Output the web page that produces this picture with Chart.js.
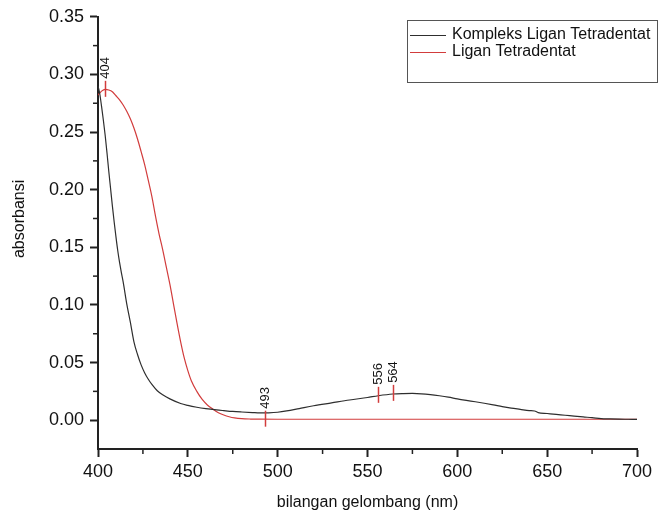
<!DOCTYPE html>
<html>
<head>
<meta charset="utf-8">
<script src="https://cdn.jsdelivr.net/npm/chart.js@4.4.1/dist/chart.umd.min.js"></script>
<style>
  html, body { margin: 0; padding: 0; background: #fff; }
</style>
</head>
<body>
<canvas id="uvChart" width="659" height="515"></canvas>
<script>
// series names
const seriesNames = ['Kompleks Ligan Tetradentat', 'Ligan Tetradentat'];

// Kompleks Ligan Tetradentat (black)
const wlKompleks = [400, 401, 402, 403, 404, 405, 406, 407, 408, 409, 410, 411, 412, 413, 414,
    416, 418, 420, 422, 424, 426, 428, 430,
    433, 436, 440, 446, 450, 455, 460, 466, 470, 475, 480, 486, 490, 495, 500, 505, 512, 520, 530, 540,
    550, 556, 564, 570, 575, 580, 585, 590, 595, 600,
    605, 610, 615, 620, 625, 630, 635, 640, 643, 645, 650, 655, 660, 665, 670, 675, 680, 685, 690, 695, 700];
const absKompleks = [0.290, 0.283, 0.272, 0.260, 0.247, 0.232, 0.216, 0.201, 0.186, 0.172, 0.159, 0.147, 0.137, 0.128, 0.120,
    0.101, 0.085, 0.068, 0.057, 0.048, 0.041, 0.0355, 0.031,
    0.0255, 0.022, 0.0185, 0.0145, 0.0128, 0.0112, 0.0100, 0.0089, 0.0083, 0.0076, 0.0071, 0.0066, 0.0063, 0.0064, 0.0069, 0.0080, 0.0101, 0.0125, 0.0150, 0.0175,
    0.0197, 0.0212, 0.0227, 0.0231, 0.0232, 0.0229, 0.0222, 0.0212, 0.0200, 0.0185,
    0.0172, 0.0160, 0.0147, 0.0133, 0.0118, 0.0105, 0.0094, 0.0083, 0.0080, 0.0066, 0.0058, 0.0050, 0.0043, 0.0035, 0.0028, 0.0022, 0.0014, 0.0011, 0.0009, 0.0008, 0.0007];

// Ligan Tetradentat (red)
const wlLigan = [400, 402, 404, 406, 408, 410, 412, 414, 416, 418, 420, 422, 424, 426, 428, 430, 432, 434, 436, 438, 440, 442, 444, 446, 448,
    450, 452, 455, 458, 461, 464, 467, 470, 473, 476, 480, 485, 490, 500, 550, 600, 650, 700];
const absLigan = [0.282, 0.2855, 0.287, 0.2865, 0.285, 0.2815, 0.278, 0.2735, 0.268, 0.2615, 0.2535, 0.244, 0.233, 0.2215, 0.208, 0.194, 0.177, 0.1615, 0.148, 0.133, 0.118, 0.101, 0.084, 0.068, 0.054,
    0.043, 0.034, 0.025, 0.018, 0.013, 0.0095, 0.0065, 0.0045, 0.003, 0.002, 0.0013, 0.001, 0.0009, 0.0008, 0.0008, 0.0008, 0.0008, 0.0008];

// peak markers
const peakWl = [404, 493, 556, 564];
const peakAbs = [0.2875, 0.0013, 0.022, 0.0237];
const peakLabels = ['404', '493', '556', '564'];

// axis ticks
const xTicks = [400, 450, 500, 550, 600, 650, 700];
const xMinorTicks = [425, 475, 525, 575, 625, 675];
const yTicks = [0, 0.05, 0.10, 0.15, 0.20, 0.25, 0.30, 0.35];
const yMinorTicks = [0.025, 0.075, 0.125, 0.175, 0.225, 0.275, 0.325];

const AXIS_COLOR = '#222';
const TEXT_COLOR = '#111';
const FONT = 'Liberation Sans, Arial, sans-serif';

const toPoints = (xs, ys) => xs.map((x, i) => ({ x: x, y: ys[i] }));

// minor ticks + peak markers + boxed legend + y title
const extrasPlugin = {
    id: 'extras',
    afterDatasetsDraw(chart) {
        const ctx = chart.ctx;
        const xs = chart.scales.x, ys = chart.scales.y;
        ctx.save();
        ctx.strokeStyle = '#d23c3c';
        ctx.lineWidth = 1.5;
        ctx.fillStyle = TEXT_COLOR;
        ctx.font = '13px ' + FONT;
        ctx.textAlign = 'left';
        ctx.textBaseline = 'middle';
        peakWl.forEach((wl, i) => {
            const px = Math.round(xs.getPixelForValue(wl)) + 0.5;
            const py = ys.getPixelForValue(peakAbs[i]);
            ctx.beginPath();
            ctx.moveTo(px, py - 8);
            ctx.lineTo(px, py + 8);
            ctx.stroke();
            ctx.save();
            ctx.translate(px, py - 10);
            ctx.rotate(-Math.PI / 2);
            ctx.fillText(peakLabels[i], 0, 0);
            ctx.restore();
        });
        ctx.restore();
    },
    afterDraw(chart) {
        const ctx = chart.ctx;
        const xs = chart.scales.x, ys = chart.scales.y;
        const area = chart.chartArea;
        ctx.save();
        // minor ticks
        ctx.strokeStyle = AXIS_COLOR;
        ctx.lineWidth = 1.5;
        xMinorTicks.forEach(v => {
            const px = xs.getPixelForValue(v);
            ctx.beginPath();
            ctx.moveTo(px, area.bottom);
            ctx.lineTo(px, area.bottom + 5);
            ctx.stroke();
        });
        yMinorTicks.forEach(v => {
            const py = ys.getPixelForValue(v);
            ctx.beginPath();
            ctx.moveTo(area.left - 5, py);
            ctx.lineTo(area.left, py);
            ctx.stroke();
        });

        // y axis title, a little above the centre as in the original
        ctx.save();
        ctx.fillStyle = TEXT_COLOR;
        ctx.font = '16px ' + FONT;
        ctx.textAlign = 'center';
        ctx.textBaseline = 'middle';
        ctx.translate(20, (area.top + area.bottom) / 2 - 14);
        ctx.rotate(-Math.PI / 2);
        ctx.fillText('absorbansi', 0, 0);
        ctx.restore();

        // legend box
        ctx.strokeStyle = '#555';
        ctx.lineWidth = 1;
        ctx.strokeRect(407.5, 20.5, 250, 62);
        ctx.font = '16px ' + FONT;
        ctx.textAlign = 'left';
        ctx.textBaseline = 'middle';
        chart.data.datasets.forEach((ds, i) => {
            const ly = 35 + i * 17;
            ctx.strokeStyle = ds.borderColor;
            ctx.lineWidth = 1.2;
            ctx.beginPath();
            ctx.moveTo(410, ly + 0.5);
            ctx.lineTo(446, ly + 0.5);
            ctx.stroke();
            ctx.fillStyle = TEXT_COLOR;
            ctx.fillText(ds.label, 452, ly);
        });
        ctx.restore();
    }
};

const ctx = document.getElementById('uvChart').getContext('2d');
new Chart(ctx, {
    type: 'line',
    data: {
        datasets: [
            {
                label: seriesNames[0],
                data: toPoints(wlKompleks, absKompleks),
                borderColor: '#2e2e2e',
                borderWidth: 1.2,
                pointRadius: 0,
                fill: false,
                cubicInterpolationMode: 'monotone',
            },
            {
                label: seriesNames[1],
                data: toPoints(wlLigan, absLigan),
                borderColor: '#d23c3c',
                borderWidth: 1.2,
                pointRadius: 0,
                fill: false,
                cubicInterpolationMode: 'monotone',
            }
        ]
    },
    options: {
        responsive: false,
        animation: false,
        devicePixelRatio: 1,
        layout: { padding: { top: 15, right: 22, left: 0, bottom: 0 } },
        plugins: {
            legend: { display: false },
            tooltip: { enabled: false }
        },
        scales: {
            x: {
                type: 'linear',
                min: 400,
                max: 700,
                afterBuildTicks: s => { s.ticks = xTicks.map(v => ({ value: v })); },
                afterFit: s => { s.height = 66; },
                ticks: {
                    color: TEXT_COLOR,
                    font: { family: FONT, size: 18 },
                    padding: 4,
                    maxRotation: 0,
                    autoSkip: false,
                },
                grid: {
                    drawOnChartArea: false,
                    tickLength: 8,
                    tickWidth: 2,
                    tickColor: AXIS_COLOR,
                },
                border: { color: AXIS_COLOR, width: 2 },
                title: {
                    display: true,
                    text: 'bilangan gelombang (nm)',
                    color: TEXT_COLOR,
                    font: { family: FONT, size: 16 },
                    padding: { top: 0, bottom: 3 },
                },
            },
            y: {
                min: -0.025,
                max: 0.35,
                afterBuildTicks: s => { s.ticks = yTicks.map(v => ({ value: v })); },
                afterFit: s => { s.width = 98; },
                ticks: {
                    color: TEXT_COLOR,
                    font: { family: FONT, size: 18 },
                    padding: 6,
                    callback: v => Number(v).toFixed(2),
                },
                grid: {
                    drawOnChartArea: false,
                    tickLength: 8,
                    tickWidth: 2,
                    tickColor: AXIS_COLOR,
                },
                border: { color: AXIS_COLOR, width: 2 },
                title: { display: false },
            }
        }
    },
    plugins: [extrasPlugin]
});
</script>
</body>
</html>
